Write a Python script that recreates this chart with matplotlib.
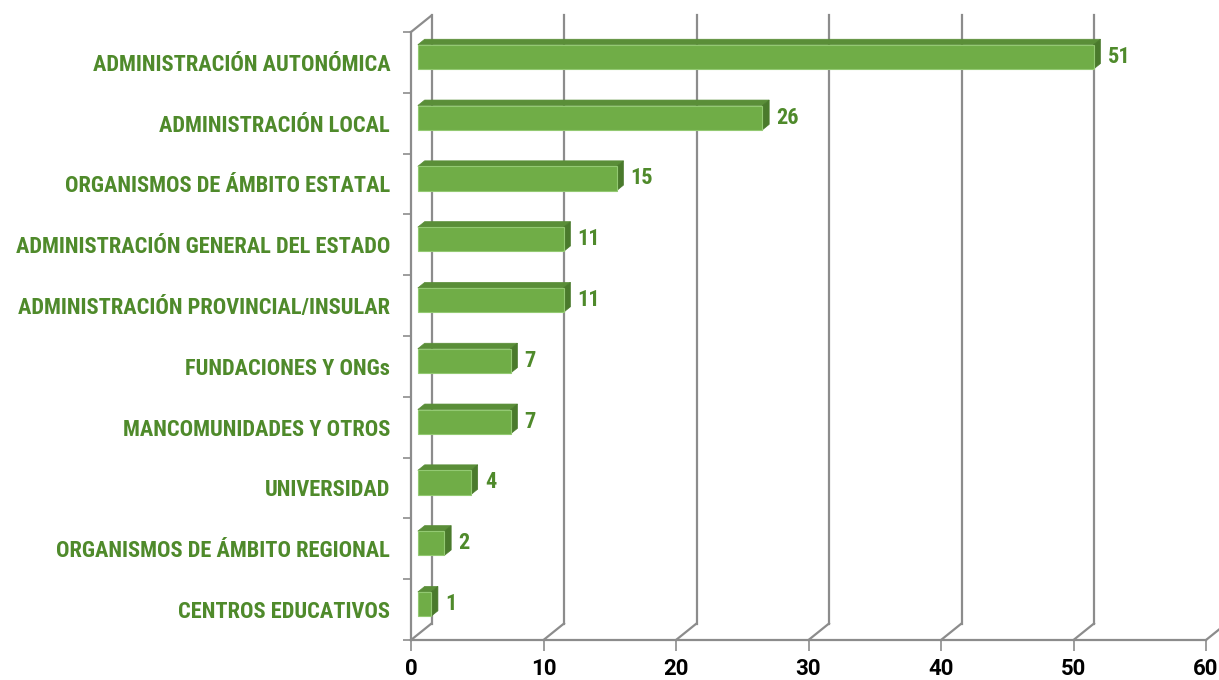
import matplotlib
matplotlib.use("Agg")
import matplotlib.pyplot as plt
from matplotlib.patches import Polygon
from matplotlib import font_manager

categories = [
    "ADMINISTRACIÓN AUTONÓMICA",
    "ADMINISTRACIÓN LOCAL",
    "ORGANISMOS DE ÁMBITO ESTATAL",
    "ADMINISTRACIÓN GENERAL DEL ESTADO",
    "ADMINISTRACIÓN PROVINCIAL/INSULAR",
    "FUNDACIONES Y ONGs",
    "MANCOMUNIDADES Y OTROS",
    "UNIVERSIDAD",
    "ORGANISMOS DE ÁMBITO REGIONAL",
    "CENTROS EDUCATIVOS",
]
values = [51, 26, 15, 11, 11, 7, 7, 4, 2, 1]
x_ticks = [0, 10, 20, 30, 40, 50, 60]

names = {f.name for f in font_manager.fontManager.ttflist}
FONT = "DejaVu Sans"
for cand in ["Liberation Sans Narrow", "Roboto Condensed", "Open Sans Condensed", "Lato", "Roboto"]:
    if cand in names:
        FONT = cand
        break
TICKFONT = "Roboto" if "Roboto" in names else FONT

GREEN_TXT = "#4F8A2B"
FRONT = "#70AD47"
TOP = "#5A8E38"
SIDE = "#4A7A2C"
EDGE = "#93C972"
GRID = "#8C8C8C"

W, H = 1219, 680
fig = plt.figure(figsize=(W / 100, H / 100), dpi=100)
left_px, right_px, top_px, bot_px = 411, 1206, 32, 640
ax = fig.add_axes([left_px / W, (H - bot_px) / H, (right_px - left_px) / W, (bot_px - top_px) / H])

n = len(categories)
ax.set_xlim(0, 60)
ax.set_ylim(n - 0.5, -0.5)

# fit label font size so the longest label spans about 376 px
renderer = fig.canvas.get_renderer()
widths = []
for c in categories:
    probe = fig.text(0, 0, c, family=FONT, fontweight="bold", fontsize=15)
    widths.append(probe.get_window_extent(renderer).width)
    probe.remove()
LBL_FS = min(17.0, 15.0 * 376.0 / max(widths))

px_x = (right_px - left_px) / 60.0
px_y = (bot_px - top_px) / n
DX = 20.5 / px_x
DY = 16.5 / px_y
a, b = 1 / 3, 2 / 3
h = 0.2

for v in x_ticks:
    ax.plot([v + DX, v + DX], [-0.5 - DY, n - 0.5 - DY], color=GRID, lw=1.6, clip_on=False, zorder=1)
    ax.plot([v, v + DX], [n - 0.5, n - 0.5 - DY], color=GRID, lw=1.6, clip_on=False, zorder=1)
ax.plot([0, DX], [-0.5, -0.5 - DY], color=GRID, lw=1.6, clip_on=False, zorder=1)

for i, v in enumerate(values):
    y0 = i - a * DY
    y1 = i - b * DY
    x0 = a * DX
    x1 = b * DX
    front = Polygon([(x0, y0 - h), (v + x0, y0 - h), (v + x0, y0 + h), (x0, y0 + h)],
                    closed=True, facecolor=FRONT, edgecolor=EDGE, lw=0.8, zorder=4)
    top = Polygon([(x0, y0 - h), (v + x0, y0 - h), (v + x1, y1 - h), (x1, y1 - h)],
                  closed=True, facecolor=TOP, edgecolor=TOP, lw=0.5, zorder=3)
    side = Polygon([(v + x0, y0 - h), (v + x0, y0 + h), (v + x1, y1 + h), (v + x1, y1 - h)],
                   closed=True, facecolor=SIDE, edgecolor=SIDE, lw=0.5, zorder=3)
    for p in (top, side, front):
        p.set_clip_on(False)
        ax.add_patch(p)
    ax.text(v + x1 + 0.55, y0, str(v), ha="left", va="center", color=GREEN_TXT,
            fontsize=16, fontweight="bold", family=FONT, zorder=5)

ax.set_yticks(range(n))
ax.set_yticklabels(categories, family=FONT, fontweight="bold", fontsize=LBL_FS, color=GREEN_TXT)
ax.set_yticks([i - 0.5 for i in range(n + 1)], minor=True)
ax.tick_params(axis="y", which="major", length=0, pad=15)
ax.tick_params(axis="y", which="minor", length=6, width=1.2, color=GRID, direction="out")

ax.set_xticks(x_ticks)
ax.set_xticklabels([str(t) for t in x_ticks], family=TICKFONT, fontweight="bold", fontsize=16, color="black")
ax.tick_params(axis="x", which="major", length=8, width=1.2, color=GRID, pad=5)

for s in ("top", "right"):
    ax.spines[s].set_visible(False)
for s in ("left", "bottom"):
    ax.spines[s].set_color(GRID)
    ax.spines[s].set_linewidth(1.6)
ax.set_facecolor("none")

fig.savefig("out.png", dpi=100)
